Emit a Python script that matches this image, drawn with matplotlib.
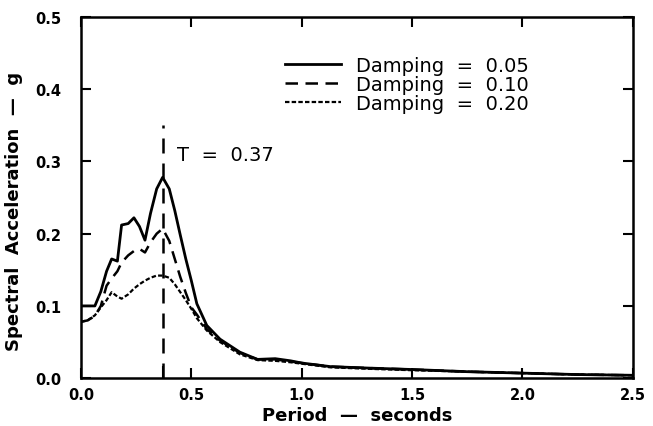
import matplotlib
matplotlib.use("Agg")
import matplotlib.pyplot as plt

# ================= data =================
period = [0.0, 0.03, 0.063, 0.09, 0.116, 0.139, 0.165, 0.184, 0.214, 0.24, 0.265, 0.29,
          0.315, 0.343, 0.37, 0.40, 0.425, 0.45, 0.475, 0.50, 0.525, 0.57, 0.63, 0.72,
          0.80, 0.88, 0.95, 1.0, 1.13, 1.3, 1.5, 1.75, 2.0, 2.25, 2.5]

damp_005 = [0.100, 0.100, 0.100, 0.120, 0.148, 0.165, 0.162, 0.212, 0.214, 0.222, 0.21, 0.191,
            0.228, 0.262, 0.278, 0.262, 0.232, 0.198, 0.165, 0.135, 0.103, 0.073, 0.054, 0.036,
            0.026, 0.027, 0.024, 0.021, 0.016, 0.014, 0.012, 0.009, 0.007, 0.005, 0.004]

damp_010 = [0.078, 0.080, 0.086, 0.100, 0.128, 0.138, 0.148, 0.160, 0.170, 0.176, 0.179, 0.174,
            0.188, 0.200, 0.207, 0.190, 0.165, 0.140, 0.118, 0.098, 0.088, 0.068, 0.052, 0.035,
            0.026, 0.026, 0.023, 0.021, 0.016, 0.014, 0.012, 0.009, 0.007, 0.005, 0.004]

damp_020 = [0.078, 0.080, 0.087, 0.098, 0.108, 0.119, 0.113, 0.110, 0.116, 0.124, 0.130, 0.135,
            0.139, 0.142, 0.142, 0.139, 0.130, 0.119, 0.108, 0.096, 0.083, 0.066, 0.050, 0.033,
            0.025, 0.024, 0.022, 0.020, 0.015, 0.013, 0.011, 0.009, 0.007, 0.005, 0.004]

labels = ["Damping  =  0.05", "Damping  =  0.10", "Damping  =  0.20"]
t_peak = 0.37
x_ticks = [0.0, 0.5, 1.0, 1.5, 2.0, 2.5]
y_ticks = [0.0, 0.1, 0.2, 0.3, 0.4, 0.5]
# ========================================

fig = plt.figure(figsize=(6.53, 4.27), dpi=100)
ax = fig.add_axes([0.124, 0.112, 0.845, 0.846])

ax.plot(period, damp_005, color="black", lw=2.0, linestyle="-", label=labels[0])
ax.plot(period, damp_010, color="black", lw=1.8, linestyle=(0, (5, 3)), label=labels[1])
ax.plot(period, damp_020, color="black", lw=1.6, linestyle=(0, (2, 1)), label=labels[2])

# peak period marker
ax.plot([t_peak, t_peak], [0.0, 0.35], color="black", lw=1.8, linestyle=(0, (6, 4)))
ax.text(t_peak + 0.065, 0.309, "T  =  0.37", fontsize=14, va="center", ha="left")

ax.set_xlim(0, 2.5)
ax.set_ylim(0, 0.5)
ax.set_xticks(x_ticks)
ax.set_yticks(y_ticks)
ax.set_xticklabels([f"{v:.1f}" for v in x_ticks], fontweight="bold", fontsize=10.5)
ax.set_yticklabels([f"{v:.1f}" for v in y_ticks], fontweight="bold", fontsize=10.5)
ax.set_xticks([t_peak], minor=True)

ax.tick_params(which="both", direction="in", top=True, right=True, width=1.5)
ax.tick_params(which="major", length=7)
ax.tick_params(which="minor", length=9, top=False)
ax.tick_params(axis="x", pad=6)
ax.tick_params(axis="y", pad=14)
for s in ax.spines.values():
    s.set_linewidth(1.8)

ax.set_xlabel("Period  —  seconds", fontsize=13, fontweight="bold", labelpad=3)
ax.set_ylabel("Spectral  Acceleration  —  g", fontsize=13, fontweight="bold")
ax.yaxis.set_label_coords(-0.105, 0.465)

leg = ax.legend(loc="upper left", bbox_to_anchor=(0.352, 0.92), frameon=False, fontsize=14,
                handlelength=2.9, handletextpad=0.75, labelspacing=0.0, borderpad=0)

plt.savefig("out.png", dpi=100)
